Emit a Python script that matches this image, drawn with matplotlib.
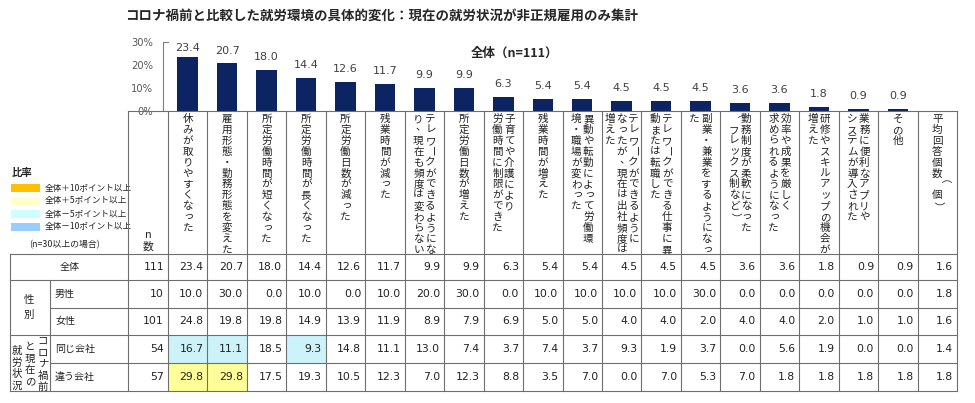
import matplotlib
matplotlib.use("Agg")
import matplotlib.pyplot as plt
import matplotlib.ticker as mticker
from matplotlib.patches import Rectangle

JP = ['Noto Sans CJK JP', 'DejaVu Sans']
NUM = 'DejaVu Sans'
plt.rcParams['font.family'] = JP

title = "コロナ禍前と比較した就労環境の具体的変化：現在の就労状況が非正規雇用のみ集計"
chart_label = "全体（n=111）"

# column headings (line breaks = columns of vertical text, read right to left)
items = [
    "休みが取りやすくなった",
    "雇用形態・勤務形態を変えた",
    "所定労働時間が短くなった",
    "所定労働時間が長くなった",
    "所定労働日数が減った",
    "残業時間が減った",
    "テレワークができるようにな\nり、現在も頻度は変わらない",
    "所定労働日数が増えた",
    "子育てや介護により\n労働時間に制限ができた",
    "残業時間が増えた",
    "異動や転勤によって労働環\n境・職場が変わった",
    "テレワークができるように\nなったが、現在は出社頻度は\n増えた",
    "テレワークができる仕事に異\n動または転職した",
    "副業・兼業をするようになっ\nた",
    "勤務制度が柔軟になった\n（フレックス制など）",
    "効率や成果を厳しく\n求められるようになった",
    "研修やスキルアップの機会が\n増えた",
    "業務に便利なアプリや\nシステムが導入された",
    "その他",
]
avg_label = "平均回答個数（個）"

row_names = ["全体", "男性", "女性", "同じ会社", "違う会社"]
n_counts = [111, 10, 101, 54, 57]

all_vals = [23.4, 20.7, 18.0, 14.4, 12.6, 11.7, 9.9, 9.9, 6.3, 5.4, 5.4, 4.5, 4.5, 4.5, 3.6, 3.6, 1.8, 0.9, 0.9]
male_vals = [10.0, 30.0, 0.0, 10.0, 0.0, 10.0, 20.0, 30.0, 0.0, 10.0, 10.0, 10.0, 10.0, 30.0, 0.0, 0.0, 0.0, 0.0, 0.0]
female_vals = [24.8, 19.8, 19.8, 14.9, 13.9, 11.9, 8.9, 7.9, 6.9, 5.0, 5.0, 4.0, 4.0, 2.0, 4.0, 4.0, 2.0, 1.0, 1.0]
same_vals = [16.7, 11.1, 18.5, 9.3, 14.8, 11.1, 13.0, 7.4, 3.7, 7.4, 3.7, 9.3, 1.9, 3.7, 0.0, 5.6, 1.9, 0.0, 0.0]
diff_vals = [29.8, 29.8, 17.5, 19.3, 10.5, 12.3, 7.0, 12.3, 8.8, 3.5, 7.0, 0.0, 7.0, 5.3, 7.0, 1.8, 1.8, 1.8, 1.8]
avg_counts = [1.6, 1.8, 1.6, 1.4, 1.8]
table_rows = [all_vals, male_vals, female_vals, same_vals, diff_vals]

legend_labels = ["全体＋10ポイント以上", "全体＋5ポイント以上", "全体－5ポイント以上", "全体－10ポイント以上"]
legend_colors = ['#FFC000', '#FFFFCC', '#CCFFFF', '#99CCFF']
cell_colors = {10: '#FFC000', 5: '#FFFF99', -5: '#CCF3FA', -10: '#99CCFF'}

# layout in pixels
W, H = 975, 403
X_LEFT, X_GRP, X_N, X_D0, X_RIGHT = 10, 50, 128, 168, 957
COL_W = (X_RIGHT - X_D0) / 20
Y_TOP, Y_HDR = 111, 254
row_edges = [254, 280, 307.5, 335, 363, 391]
LINE = '#6E6E6E'
TXT = '#222222'

fig = plt.figure(figsize=(W / 100, H / 100), dpi=100)
fig.patch.set_facecolor('white')

# bar chart
x_min = -0.5 - (X_D0 - 163) / COL_W
bx = fig.add_axes([163 / W, 1 - Y_TOP / H, (X_RIGHT - 163) / W, 69 / H])
bx.bar(range(len(all_vals)), all_vals, width=0.52, color='#0C2461', zorder=2)
bx.set_xlim(x_min, 19.5)
bx.set_ylim(0, 30)
bx.set_yticks([0, 10, 20, 30])
bx.yaxis.set_major_formatter(mticker.PercentFormatter(decimals=0))
bx.set_xticks([])
bx.tick_params(axis='y', length=0, pad=7, labelsize=7.2, labelcolor='#595959')
for lbl in bx.get_yticklabels():
    lbl.set_family(NUM)
for s in ['right', 'bottom']:
    bx.spines[s].set_visible(False)
bx.spines['left'].set_color('#7F7F7F')
bx.spines['top'].set_color('#7F7F7F')
bx.spines['top'].set_bounds(x_min, -0.5)
bx.patch.set_visible(False)
for i, v in enumerate(all_vals):
    bx.annotate(f"{v:.1f}", (i, min(v + 5.6, 27.2)), ha='center', va='center',
                fontsize=8, family=NUM, color='#404040', annotation_clip=False)

# full-figure axes for table and texts (pixel coordinates)
ax = fig.add_axes([0, 0, 1, 1])
ax.set_xlim(0, W)
ax.set_ylim(H, 0)
ax.axis('off')
ax.patch.set_visible(False)
ax.set_zorder(3)

ax.text(125, 16, title, fontsize=9.7, weight='bold', color='#262626', ha='left', va='center')
ax.text(515, 53, chart_label, fontsize=9, weight='bold', color='#262626', ha='center', va='center')

ROTATE = set("ー（）")
SMALL = set("ぁぃぅぇぉっゃゅょァィゥェォッャュョ")
PUNCT = set("、。")


def vtext(x, y, s, size, pitch, **kw):
    em = size * 100 / 72
    for i, ch in enumerate(s):
        cx, cy, rot = x, y + i * pitch, 0
        if ch in ROTATE:
            rot = -90
        elif ch in SMALL:
            cx += 0.08 * em
            cy -= 0.12 * em
        elif ch in PUNCT:
            cx += 0.25 * em
            cy -= 0.3 * em
        ax.text(cx, cy, ch, fontsize=size, rotation=rot, ha='center', va='center', color=TXT, **kw)


# header labels
headers = items + [avg_label]
for k, lab in enumerate(headers):
    cols = lab.split("\n")
    cx = X_D0 + (k + 0.5) * COL_W
    pitch_x = 12
    for j, c in enumerate(cols):
        x = cx + (len(cols) - 1) / 2 * pitch_x - j * pitch_x
        vtext(x, 119, c, 7.6, 10.9)
ax.text(148, 235, "n", fontsize=7.8, ha='center', va='center', color=TXT)
ax.text(148, 246.5, "数", fontsize=7.8, ha='center', va='center', color=TXT)

# highlight cells
for r in range(1, len(table_rows)):
    if n_counts[r] < 30:
        continue
    for k, v in enumerate(table_rows[r]):
        d = v - all_vals[k]
        col = None
        if d >= 10:
            col = cell_colors[10]
        elif d >= 5:
            col = cell_colors[5]
        elif d <= -10:
            col = cell_colors[-10]
        elif d <= -5:
            col = cell_colors[-5]
        if col:
            ax.add_patch(Rectangle((X_D0 + k * COL_W, row_edges[r]), COL_W,
                                   row_edges[r + 1] - row_edges[r], facecolor=col, edgecolor='none', zorder=1))

# table lines
lw = 0.8
ax.plot([X_N, X_RIGHT], [Y_TOP, Y_TOP], color=LINE, lw=lw, zorder=4)
for y, x0 in zip(row_edges, [X_LEFT, X_LEFT, X_GRP, X_LEFT, X_GRP, X_LEFT]):
    ax.plot([x0, X_RIGHT], [y, y], color=LINE, lw=lw, zorder=4)
ax.plot([X_LEFT, X_LEFT], [row_edges[0], row_edges[-1]], color=LINE, lw=lw, zorder=4)
ax.plot([X_GRP, X_GRP], [row_edges[1], row_edges[-1]], color=LINE, lw=lw, zorder=4)
ax.plot([X_N, X_N], [Y_TOP, row_edges[-1]], color=LINE, lw=lw, zorder=4)
for k in range(21):
    x = X_D0 + k * COL_W
    ax.plot([x, x], [Y_TOP, row_edges[-1]], color=LINE, lw=lw, zorder=4)

# row labels and numbers
for r, name in enumerate(row_names):
    yc = (row_edges[r] + row_edges[r + 1]) / 2
    if r == 0:
        ax.text(70, yc, name, fontsize=7.2, ha='center', va='center', color=TXT)
    else:
        ax.text(55, yc, name, fontsize=7.2, ha='left', va='center', color=TXT)
    ax.text(X_D0 - 4, yc, f"{n_counts[r]}", fontsize=7.8, family=NUM, ha='right', va='center', color=TXT)
    vals = table_rows[r] + [avg_counts[r]]
    for k, v in enumerate(vals):
        ax.text(X_D0 + (k + 1) * COL_W - 4, yc, f"{v:.1f}", fontsize=7.8, family=NUM,
                ha='right', va='center', color=TXT)

ax.text(29, 300.5, "性", fontsize=7.5, ha='center', va='center', color=TXT)
ax.text(29, 314.5, "別", fontsize=7.5, ha='center', va='center', color=TXT)
vtext(43, 341, "コロナ禍前", 7.5, 11.5)
vtext(30, 347, "と現在の", 7.5, 11.5)
vtext(17, 351, "就労状況", 7.5, 11.5)

# legend
ax.text(12, 173, "比率", fontsize=7.5, weight='bold', ha='left', va='center', color=TXT)
for i, (lab, col) in enumerate(zip(legend_labels, legend_colors)):
    yc = 188 + i * 13
    ax.add_patch(Rectangle((11, yc - 4), 29, 8, facecolor=col, edgecolor='none'))
    ax.text(45, yc, lab, fontsize=6.2, ha='left', va='center', color=TXT)
ax.text(64, 245, "(n=30以上の場合)", fontsize=6.4, ha='center', va='center', color=TXT)

fig.savefig("out.png", dpi=100)
